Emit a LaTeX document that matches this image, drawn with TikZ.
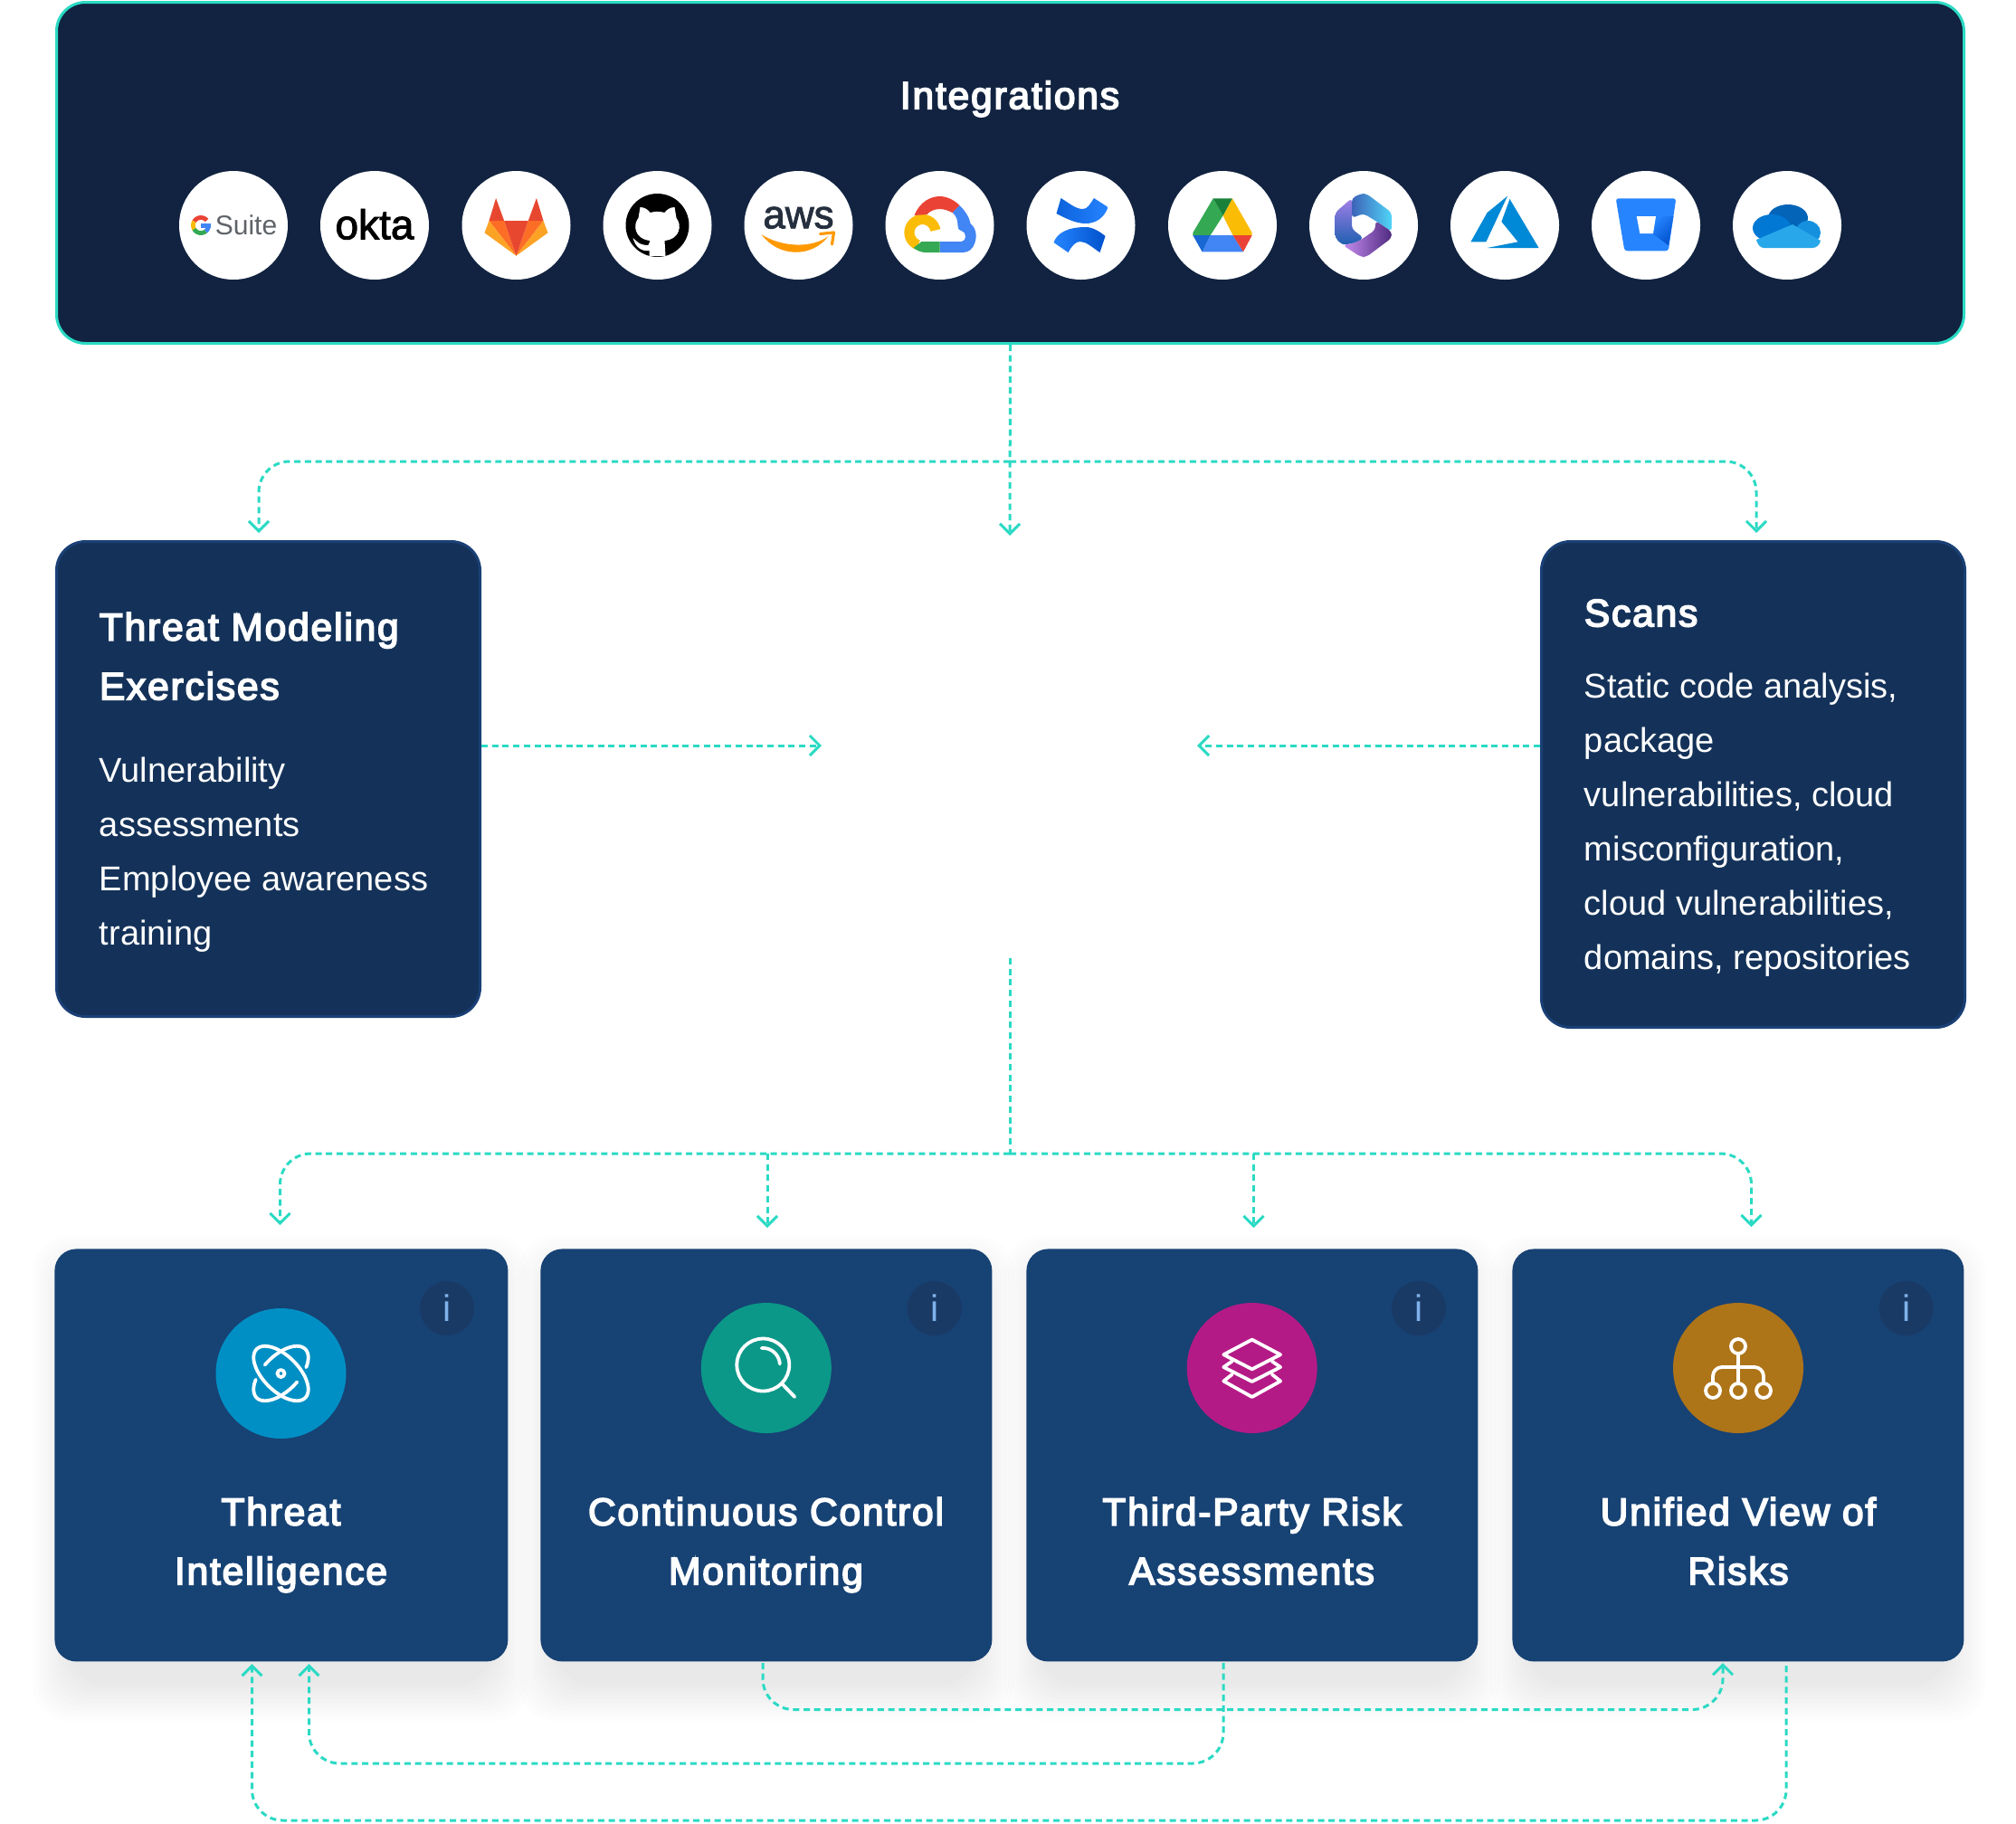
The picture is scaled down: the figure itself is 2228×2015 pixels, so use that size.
\documentclass[tikz,border=0pt]{standalone}
\usepackage{fontspec}
\usetikzlibrary{arrows.meta,calc}
\setmainfont{Liberation Sans}
\newfontfamily\bodyfont{Liberation Sans}
\newfontfamily\headfont[LetterSpace=4.3,FakeBold=4]{Liberation Sans}
\newfontfamily\plainfont{Liberation Sans}
\newfontfamily\semifont[FakeBold=2]{Liberation Sans}
\definecolor{teal1}{HTML}{2BDAC4}
\definecolor{topfill}{HTML}{112340}
\definecolor{midfill}{HTML}{143259}
\definecolor{midedge}{HTML}{1A4076}
\definecolor{cardfill}{HTML}{174274}
\definecolor{infofill}{HTML}{1A3A66}
\definecolor{infotext}{HTML}{7FB2EA}
\definecolor{cAtom}{HTML}{008FC4}
\definecolor{cSearch}{HTML}{0B9888}
\definecolor{cLayers}{HTML}{B41A86}
\definecolor{cHier}{HTML}{AE7418}
\definecolor{gRed}{HTML}{EA4335}
\definecolor{gBlue}{HTML}{4285F4}
\definecolor{gGreen}{HTML}{34A853}
\definecolor{gYellow}{HTML}{FBBC05}
\definecolor{gDarkGreen}{HTML}{188038}
\definecolor{gDarkBlue}{HTML}{1967D2}
\definecolor{labRed}{HTML}{E8472F}
\definecolor{labOrange}{HTML}{FC6D26}
\definecolor{labYellow}{HTML}{FCA326}
\definecolor{atlBlue}{HTML}{2684FF}
\definecolor{atlDark}{HTML}{0052CC}
\definecolor{azBlue}{HTML}{0089D6}
\definecolor{awsInk}{HTML}{252F3E}
\definecolor{awsOrange}{HTML}{FF9900}
\definecolor{gsGray}{HTML}{5F6368}
\definecolor{odDome}{HTML}{0364B8}
\definecolor{odLeft}{HTML}{0078D4}
\definecolor{odRight}{HTML}{1490DF}
\definecolor{odBase}{HTML}{28A8EA}
\definecolor{msA}{HTML}{A27FE8}
\definecolor{msB}{HTML}{1D5FB0}
\definecolor{msC}{HTML}{3D63B8}
\definecolor{msD}{HTML}{50D5F8}
\definecolor{msE}{HTML}{C68EF0}
\definecolor{msF}{HTML}{4F2A80}
\newcommand{\arcpts}[5]{plot[domain=#4:#5,samples=40]({#1+#3*cos(\x)},{#2-#3*sin(\x)})}
\tikzset{
  x=0.5pt,y=-0.5pt,
  conn/.style={draw=teal1,line width=1.5pt,dash pattern=on 3.5pt off 2.35pt,rounded corners=17pt},
  tipped/.style={conn,-{Straight Barb[length=5.5pt,width=11pt,line width=1.5pt]}},
  topbox/.style={rectangle,inner sep=0,draw=teal1,fill=topfill,line width=1.5pt,rounded corners=16pt,minimum width=1054pt,minimum height=188.5pt,anchor=north west},
  midbox/.style={rectangle,inner sep=0,draw=midedge,fill=midfill,line width=1.5pt,rounded corners=16pt,minimum width=234pt,anchor=north west},
  cardbox/.style={rectangle,inner sep=0,fill=cardfill,rounded corners=12pt,minimum height=228pt,anchor=north west},
  logodisc/.style={circle,inner sep=0,fill=white,minimum size=60pt},
  icondisc/.style={circle,inner sep=0,minimum size=72pt},
  infodisc/.style={circle,inner sep=0,fill=infofill,minimum size=30pt,text=infotext,font=\plainfont\fontsize{20.5}{20.5}\selectfont},
  head/.style={inner sep=0,text=white,font=\headfont\fontsize{21.25}{32.75}\selectfont},
  body/.style={inner sep=0,text=white,font=\bodyfont\fontsize{19}{30}\selectfont,align=left,anchor=north west},
  iconline/.style={draw=white,line width=1.9pt,line cap=round,line join=round},
}
\begin{document}
\begin{tikzpicture}
\useasboundingbox (0,0) rectangle (2228,2015);
\fill[white] (0,0) rectangle (2228,2015);

% card shadows
\foreach \cl/\cr in {60/561,597/1096,1134/1633,1671/2170}{
  \foreach \e in {42,38,...,2}{
    \fill[black,opacity=0.0075,rounded corners=20pt] (\cl+18-\e,1380+28-\e) rectangle (\cr-18+\e,1836+24+\e);
  }
}

% boxes
\node[topbox] (top) at (61,1) {};
\node[midbox,minimum height=262.5pt] (tm) at (61,597) {};
\node[midbox,minimum height=268.5pt] (sc) at (1702,597) {};
\node[cardbox,minimum width=250.5pt] (card1) at (60,1380) {};
\node[cardbox,minimum width=249.5pt] (card2) at (597,1380) {};
\node[cardbox,minimum width=249.5pt] (card3) at (1134,1380) {};
\node[cardbox,minimum width=249.5pt] (card4) at (1671,1380) {};

% labels
\node[head,anchor=mid] (ttop) at (1116,115) {Integrations};
\node[head,align=left,anchor=north west] (ttm) at (109.5,676.5) {Threat Modeling\\Exercises};
\node[body] (btm) at (109.5,837) {Vulnerability\\assessments\\Employee awareness\\training};
\node[head,anchor=mid west] (tsc) at (1750.5,687) {Scans};
\node[body] (bsc) at (1750.5,744) {Static code analysis,\\package\\vulnerabilities, cloud\\misconfiguration,\\cloud vulnerabilities,\\domains, repositories};
\node[head,align=center,anchor=north] (t1) at (310.5,1654.5) {Threat\\Intelligence};
\node[head,align=center,anchor=north] (t2) at (846.5,1654.5) {Continuous Control\\Monitoring};
\node[head,align=center,anchor=north] (t3) at (1383.5,1654.5) {Third-Party Risk\\Assessments};
\node[head,align=center,anchor=north] (t4) at (1921,1654.5) {Unified View of\\Risks};

% info discs
\node[infodisc] (i1) at (494,1446) {i};
\node[infodisc] (i2) at (1032.7,1446) {i};
\node[infodisc] (i3) at (1568,1446) {i};
\node[infodisc] (i4) at (2106.6,1446) {i};

% icon discs
\node[icondisc,fill=cAtom] (d1) at (310.5,1518) {};
\node[icondisc,fill=cSearch] (d2) at (846.8,1512) {};
\node[icondisc,fill=cLayers] (d3) at (1383.7,1512) {};
\node[icondisc,fill=cHier] (d4) at (1921,1512) {};

% atom icon
\begin{scope}[shift={(d1.center)}]
  \draw[iconline] plot[domain=0:360,samples=80,smooth] ({(38*cos(\x)+19.5*sin(\x))*0.7071},{(38*cos(\x)-19.5*sin(\x))*0.7071});
  \draw[iconline] plot[domain=99:-50,samples=50,smooth] ({(38*cos(\x)-19.5*sin(\x))*0.7071},{-(38*cos(\x)+19.5*sin(\x))*0.7071});
  \draw[iconline] plot[domain=-81:-230,samples=50,smooth] ({(38*cos(\x)-19.5*sin(\x))*0.7071},{-(38*cos(\x)+19.5*sin(\x))*0.7071});
  \draw[iconline] (0,0) circle[radius=2pt];
\end{scope}
% search icon
\begin{scope}[shift={(d2.center)}]
  \draw[iconline] (-3.5,-3.5) circle[radius=14.5pt];
  \draw[iconline] (17.5,17.5) -- (31.5,32);
  \draw[iconline] \arcpts{-3.5}{-3.5}{18.5}{95}{3};
\end{scope}
% layers icon
\begin{scope}[shift={(d3.center)}]
  \draw[iconline] (0,-31.4) -- (31.4,-14.8) -- (0,1.3) -- (-31.4,-14.8) -- cycle;
  \draw[iconline] (-22,-7.5) -- (-31.4,-1) -- (0,15) -- (31.4,-1) -- (22,-7.5);
  \draw[iconline] (-22,7) -- (-31.4,14.5) -- (0,32) -- (31.4,14.5) -- (22,7);
\end{scope}
% hierarchy icon
\begin{scope}[shift={(d4.center)}]
  \draw[iconline] (0,-24) circle[radius=4pt];
  \draw[iconline] (-28,25) circle[radius=4pt];
  \draw[iconline] (0,25) circle[radius=4pt];
  \draw[iconline] (28,25) circle[radius=4pt];
  \draw[iconline] (0,-16) -- (0,17);
  \draw[iconline,rounded corners=5pt] (-28,17) -- (-28,-1) -- (28,-1) -- (28,17);
\end{scope}

% integration discs
\node[logodisc] (l1) at (258,249) {};
\node[logodisc] (l2) at (414,249) {};
\node[logodisc] (l3) at (570.5,249) {};
\node[logodisc] (l4) at (726.5,249) {};
\node[logodisc] (l5) at (882.5,249) {};
\node[logodisc] (l6) at (1038.5,249) {};
\node[logodisc] (l7) at (1194.5,249) {};
\node[logodisc] (l8) at (1351,249) {};
\node[logodisc] (l9) at (1507,249) {};
\node[logodisc] (l10) at (1663,249) {};
\node[logodisc] (l11) at (1819,249) {};
\node[logodisc] (l12) at (1975,249) {};

% G Suite
\begin{scope}[shift={(l1.center)}]
  \draw[gRed,line width=2.4pt] \arcpts{-36}{0}{8.5}{40}{150};
  \draw[gYellow,line width=2.4pt] \arcpts{-36}{0}{8.5}{150}{210};
  \draw[gGreen,line width=2.4pt] \arcpts{-36}{0}{8.5}{210}{310};
  \draw[gBlue,line width=2.4pt] \arcpts{-36}{0}{8.5}{310}{360};
  \fill[gBlue] (-36,-2.5) rectangle (-25,2.5);
  \node[inner sep=0,text=gsGray,font=\plainfont\fontsize{15}{15}\selectfont,anchor=mid] (gs) at (14,5.5) {Suite};
\end{scope}
% okta
\node[inner sep=0,text=black,font=\semifont\fontsize{23}{23}\selectfont,anchor=mid,yshift=-5pt] (okta) at (l2.center) {okta};
% GitLab
\begin{scope}[shift={(l3.center)}]
  \fill[labRed] (-22.4,-30) -- (-30,-5) -- (-13.3,-5) -- cycle;
  \fill[labRed] (22.4,-30) -- (30,-5) -- (13.3,-5) -- cycle;
  \fill[labOrange] (-30,-5) -- (-13.3,-5) -- (0,33.7) -- cycle;
  \fill[labOrange] (30,-5) -- (13.3,-5) -- (0,33.7) -- cycle;
  \fill[labRed] (-13.3,-5) -- (13.3,-5) -- (0,33.7) -- cycle;
  \fill[labYellow] (-30,-5) -- (-35,8.3) -- (0,33.7) -- cycle;
  \fill[labYellow] (30,-5) -- (35,8.3) -- (0,33.7) -- cycle;
\end{scope}
% GitHub
\begin{scope}[shift={(l4.center)}]
  \fill[black] (0,0) circle[radius=17.5pt];
  \fill[white] (-19,-20) .. controls (-14,-20) and (-10,-17) .. (-8,-14) .. controls (-3,-15.5) and (3,-15.5) .. (8,-14) .. controls (10,-17) and (14,-20) .. (19,-20) -- (21,-8) .. controls (27,-1) and (26,15) .. (8,17) -- (9,34) -- (-9,34) -- (-9,28) .. controls (-17,29) and (-24,25) .. (-27,14) .. controls (-23,17) and (-21,22) .. (-10,22) -- (-8,17) .. controls (-26,15) and (-27,-1) .. (-21,-8) -- cycle;
\end{scope}
% aws
\begin{scope}[shift={(l5.center)}]
  \node[inner sep=0,font=\semifont\fontsize{22}{22}\selectfont,anchor=mid,text=awsInk] (aws) at (0,-2) {aws};
  \fill[awsOrange] (-41,10) .. controls (-20,24) and (15,26) .. (33,12) .. controls (15,36) and (-22,36) .. (-41,10) -- cycle;
  \draw[awsOrange,line width=1.6pt,line cap=round,line join=round] (24,9.5) -- (39,8) -- (37,21);
\end{scope}
% Google Cloud
\begin{scope}[shift={(l6.center)}]
  \draw[gYellow,line width=5.6pt] \arcpts{-19}{8}{14.5}{10}{250};
  \fill[gRed] (-28,-11) .. controls (-22,-26) and (-10,-32) .. (0,-32) .. controls (8,-32) and (16,-28) .. (22,-22) -- (14,-14) .. controls (10,-16) and (5,-18) .. (0,-18) .. controls (-6,-18) and (-12,-15) .. (-14,-12) -- cycle;
  \fill[gBlue] (22,-22) .. controls (29,-15) and (33,-8) .. (34,-2) .. controls (41,4) and (41,13) .. (39,19) .. controls (37,26) and (32,30) .. (26,30) -- (0,30) -- (0,18) -- (24,18) .. controls (30,18) and (30,7) .. (24,6) .. controls (20,5) and (20,2) .. (20,0) .. controls (20,-6) and (18,-11) .. (14,-14) -- cycle;
  \fill[gGreen] (0,18) -- (0,30) -- (-16,30) .. controls (-20,30) and (-25,28) .. (-29,25) -- (-20,18) -- cycle;
\end{scope}
% Confluence
\begin{scope}[shift={(l7.center)}]
  \shade[left color=atlDark!70!atlBlue,right color=atlBlue] (-22,-30) .. controls (-12,-24) and (-6,-18) .. (2.4,-18) .. controls (7,-18) and (10,-23) .. (14.5,-30) -- (30,-20) .. controls (26,-8) and (16,-2) .. (5.5,-2) .. controls (-3,-2) and (-12,-5) .. (-27,-13) -- cycle;
  \shade[left color=atlBlue,right color=atlDark] (21,30) .. controls (12,24) and (6,18) .. (-1,18) .. controls (-6,18) and (-10,23) .. (-14,30) -- (-30,19) .. controls (-26,8) and (-14,2) .. (5.5,2) .. controls (12,2) and (20,6) .. (27,12) -- cycle;
\end{scope}
% Google Drive
\begin{scope}[shift={(l8.center)}]
  \fill[gGreen] (-10.3,-29.7) -- (0.6,-10.7) -- (-13.3,11) -- (-32.7,11) -- (-32.7,8.3) -- cycle;
  \fill[gYellow] (10.9,-29.7) -- (32.7,8.3) -- (32.7,11) -- (11.5,11) -- (0.6,-10.7) -- cycle;
  \fill[gDarkGreen] (-10.3,-29.7) -- (10.9,-29.7) -- (0.6,-10.7) -- cycle;
  \fill[gBlue] (-13.3,11) -- (11.5,11) -- (23,29.3) -- (-22.4,29.3) -- cycle;
  \fill[gDarkBlue] (-32.7,11) -- (-13.3,11) -- (-22.4,29.3) -- cycle;
  \fill[gRed] (11.5,11) -- (32.7,11) -- (23,29.3) -- cycle;
\end{scope}
% Microsoft 365
\begin{scope}[shift={(l9.center)},line join=round]
  \shade[top color=msA,bottom color=msB,rounded corners=2pt] (-13,-30) -- (-31.5,-14) -- (-31.5,14) -- (-23,22) -- (-8,19) -- (0,14) -- (-13,4) -- cycle;
  \shade[left color=msC,right color=msD,rounded corners=2pt] (-13,-30) -- (-3,-35) -- (3,-35) -- (31,-14) -- (31,7) -- (13,-5) -- (0,-13) -- (-13,-8) -- cycle;
  \shade[left color=msE,right color=msF,rounded corners=2pt] (-23,22) -- (-3,35) -- (3,35) -- (31,14) -- (31,7) -- (13,-5) -- (13,5) -- (0,14) -- (-8,19) -- cycle;
\end{scope}
% Azure
\begin{scope}[shift={(l10.center)}]
  \fill[azBlue] (3,-32.3) -- (-19.4,-14) -- (-37.6,18.3) -- (-20.6,18.3) -- cycle;
  \fill[azBlue] (5.5,-29) -- (-3.6,-4) -- (14.5,18.3) -- (-19.4,25) -- (37.6,25) -- cycle;
\end{scope}
% Bitbucket
\begin{scope}[shift={(l11.center)}]
  \fill[atlBlue,rounded corners=1.5pt] (-33.3,-29.7) -- (33.3,-29.7) -- (24.8,28.3) -- (-23.6,28.3) -- cycle;
  \shade[left color=atlDark,right color=atlBlue,shading angle=225] (11,-10) -- (30.5,-10) -- (24.8,22) -- (7,9) -- cycle;
  \fill[white] (-10.3,-10) -- (11,-10) -- (8,9) -- (-6.7,9) -- cycle;
\end{scope}
% OneDrive
\begin{scope}[shift={(l12.center)}]
  \fill[odDome] (1,-8) ellipse[x radius=11pt,y radius=7.5pt];
  \fill[odLeft] (-17,3) ellipse[x radius=10.5pt,y radius=7.5pt];
  \fill[odRight] (23,8) ellipse[x radius=7pt,y radius=6.5pt];
  \fill[odBase] (-34,16) -- (6,-1) -- (37,17) .. controls (36,22) and (32,25) .. (28,25) -- (-26,25) .. controls (-30,25) and (-33,20) .. (-34,16) -- cycle;
\end{scope}

% connectors: top fan
\coordinate (a0) at (1116,510);
\coordinate (a1) at (286,589);
\coordinate (a2) at (1116,592);
\coordinate (a3) at (1941,589);
\draw[tipped] (top.south) -- (a2);
\draw[tipped] (a0) -| (a1);
\draw[tipped] (a0) -| (a3);
% connectors: middle
\coordinate (h1) at (908,824);
\coordinate (h2) at (1323,824);
\coordinate (s1) at (tm.east |- h1);
\coordinate (s2) at (sc.west |- h2);
\draw[tipped] (s1) -- (h1);
\draw[tipped] (s2) -- (h2);
% connectors: lower fan
\coordinate (m0) at (1116,1059);
\coordinate (m1) at (1116,1275);
\coordinate (e1) at (309.5,1354);
\coordinate (e2) at (848,1357);
\coordinate (e3) at (1385.5,1357);
\coordinate (e4) at (1935.5,1356);
\coordinate (f2) at (848,1275);
\coordinate (f3) at (1385.5,1275);
\draw[conn] (m0) -- (m1);
\draw[tipped] (m1) -| (e1);
\draw[tipped] (m1) -| (e4);
\draw[tipped] (f2) -- (e2);
\draw[tipped] (f3) -- (e3);
% connectors: feedback
\coordinate (r1) at (843,1838);
\coordinate (r2) at (843,1889.5);
\coordinate (r3) at (1904,1889.5);
\coordinate (r4) at (1904,1838);
\coordinate (q1) at (1352,1838);
\coordinate (q2) at (1352,1949);
\coordinate (q3) at (341.5,1949);
\coordinate (q4) at (341.5,1839);
\coordinate (p1) at (1974,1841);
\coordinate (p2) at (1974,2012);
\coordinate (p3) at (278.5,2012);
\coordinate (p4) at (278.5,1839);
\draw[tipped] (r1) -- (r2) -- (r3) -- (r4);
\draw[tipped] (q1) -- (q2) -- (q3) -- (q4);
\draw[tipped] (p1) -- (p2) -- (p3) -- (p4);
\end{tikzpicture}
\end{document}
